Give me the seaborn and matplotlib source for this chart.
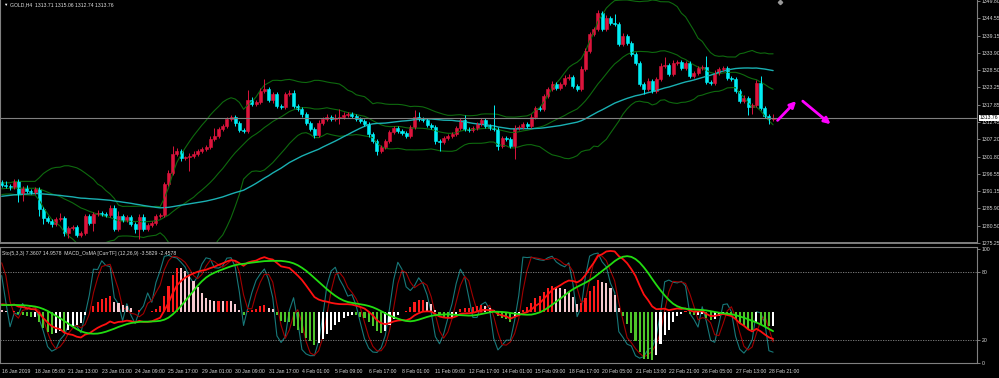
import numpy as np
import pandas as pd
import matplotlib
matplotlib.use("Agg")
import matplotlib.pyplot as plt
import matplotlib.transforms as mtransforms
import seaborn as sns

# ================================
# DATA (GOLD H4, 16 Jan - 28 Feb 2019)
# ================================
closes = [
    1293.1, 1292.8, 1292.5, 1294.3, 1290.3, 1292.2, 1291.3, 1291.0, 1291.9, 1285.7,
    1282.9, 1282.0, 1281.1, 1282.6, 1282.9, 1278.3, 1279.9, 1280.2, 1277.7, 1278.3,
    1283.6, 1281.4, 1284.2, 1284.5, 1284.2, 1284.0, 1286.0, 1279.6, 1283.6, 1282.3,
    1283.3, 1281.1, 1279.6, 1283.3, 1279.6, 1280.8, 1281.4, 1283.6, 1283.9, 1293.4,
    1296.8, 1302.7, 1303.6, 1301.4, 1301.7, 1302.0, 1302.7, 1303.6, 1304.2, 1304.8,
    1307.3, 1308.2, 1310.4, 1311.3, 1313.4, 1314.1, 1312.2, 1310.1, 1309.8, 1319.3,
    1318.1, 1318.7, 1322.1, 1322.7, 1319.3, 1321.1, 1317.5, 1317.1, 1321.1, 1321.5,
    1317.5, 1316.5, 1315.0, 1312.2, 1310.4, 1308.5, 1312.2, 1313.4, 1314.1, 1313.4,
    1313.8, 1314.1, 1314.7, 1315.0, 1314.4, 1313.4, 1312.8, 1311.9, 1308.8, 1306.7,
    1303.6, 1304.8, 1306.7, 1309.4, 1310.7, 1309.8, 1309.1, 1308.2, 1311.0, 1314.1,
    1313.4, 1313.1, 1311.6, 1311.0, 1306.7, 1306.4, 1307.6, 1308.2, 1308.8, 1310.7,
    1313.1, 1310.4, 1310.1, 1310.7, 1311.9, 1313.1, 1311.3, 1310.7, 1310.4, 1305.1,
    1307.6, 1307.3, 1305.1, 1310.7, 1311.0, 1311.9, 1311.3, 1314.1, 1316.8, 1316.5,
    1320.5, 1322.7, 1324.2, 1323.0, 1324.2, 1326.1, 1326.4, 1323.6, 1322.7, 1328.9,
    1334.4, 1339.6, 1341.2, 1346.1, 1341.2, 1344.6, 1343.0, 1342.7, 1336.6, 1339.0,
    1336.9, 1333.5, 1330.7, 1324.2, 1322.7, 1325.2, 1322.1, 1325.8, 1329.8, 1330.1,
    1327.3, 1330.7, 1331.0, 1329.2, 1330.7, 1326.7, 1327.6, 1329.2, 1329.5, 1324.8,
    1324.5, 1327.6, 1328.9, 1329.2, 1326.1, 1325.8, 1322.1, 1319.0, 1319.9, 1317.1,
    1317.8, 1324.5, 1316.8, 1314.4, 1313.3, 1313.76]

wick_up = [
    0.9, 1.2, 0.5, 0.8, 0.6, 0.6, 0.8, 0.5, 0.5, 0.6,
    0.5, 0.6, 0.6, 0.6, 1.5, 0.6, 0.5, 0.6, 0.6, 0.5,
    0.6, 0.6, 0.5, 0.8, 0.7, 0.6, 1.0, 1.0, 1.5, 0.6,
    0.6, 0.6, 0.5, 0.8, 0.8, 0.5, 0.5, 0.6, 0.6, 0.6,
    0.9, 2.5, 0.8, 0.6, 0.5, 1.0, 0.8, 0.6, 0.5, 0.6,
    0.8, 2.4, 0.7, 0.6, 0.8, 0.6, 0.5, 0.6, 0.6, 3.0,
    0.8, 0.6, 1.0, 3.0, 0.7, 0.8, 0.6, 0.5, 0.6, 0.8,
    0.8, 0.6, 0.8, 0.5, 0.6, 0.5, 1.0, 0.8, 0.8, 0.6,
    1.2, 2.4, 0.8, 0.6, 0.6, 0.6, 0.6, 0.5, 0.6, 0.5,
    0.5, 0.6, 0.6, 0.8, 0.6, 0.6, 0.5, 0.5, 0.6, 2.0,
    1.6, 0.6, 0.6, 0.5, 0.6, 0.5, 0.6, 0.5, 0.5, 0.6,
    0.8, 1.5, 0.6, 0.5, 0.6, 0.8, 0.6, 0.6, 7.0, 0.6,
    0.6, 0.6, 0.6, 1.0, 0.6, 0.6, 0.6, 0.8, 0.8, 0.6,
    0.6, 0.6, 1.0, 0.8, 0.6, 0.8, 0.8, 0.6, 0.6, 0.8,
    0.8, 0.8, 0.6, 0.8, 0.6, 0.8, 0.6, 2.8, 0.6, 0.8,
    0.6, 0.6, 0.6, 0.6, 0.6, 0.8, 0.6, 0.6, 0.8, 2.5,
    0.6, 0.8, 0.6, 0.6, 0.6, 0.6, 0.5, 0.6, 0.6, 3.5,
    0.6, 0.8, 0.6, 0.6, 0.6, 0.5, 0.6, 0.6, 0.8, 0.6,
    0.6, 1.0, 2.2, 0.6, 0.6, 1.3]

wick_dn = [
    0.6, 0.6, 0.8, 0.5, 2.4, 2.0, 0.8, 0.6, 0.6, 2.0,
    1.8, 0.6, 1.0, 0.6, 0.6, 1.0, 1.5, 0.6, 0.6, 0.5,
    0.6, 0.6, 2.5, 0.6, 0.6, 0.6, 0.6, 0.8, 0.6, 0.6,
    0.6, 0.6, 1.2, 3.0, 0.6, 0.6, 0.6, 0.5, 0.6, 0.5,
    0.6, 0.6, 0.6, 0.8, 0.6, 4.3, 0.6, 0.6, 0.6, 0.6,
    0.6, 0.6, 0.5, 0.6, 0.6, 0.6, 0.8, 0.8, 0.6, 0.6,
    0.6, 0.6, 0.6, 0.6, 0.6, 0.8, 0.6, 0.5, 0.6, 0.6,
    0.8, 0.6, 0.8, 0.6, 0.6, 1.0, 0.6, 0.5, 0.6, 0.6,
    0.6, 1.8, 0.6, 0.6, 0.6, 0.6, 0.6, 0.6, 0.8, 0.6,
    1.2, 0.6, 0.5, 0.6, 0.6, 0.6, 0.6, 0.6, 0.6, 0.6,
    0.6, 0.6, 0.6, 0.6, 1.0, 2.8, 0.6, 0.6, 0.6, 0.6,
    0.6, 0.6, 0.6, 0.6, 0.5, 0.6, 0.6, 0.6, 0.6, 1.2,
    0.6, 0.6, 0.6, 4.0, 0.6, 0.6, 0.6, 0.6, 0.6, 0.6,
    0.6, 0.6, 0.6, 0.6, 0.6, 0.6, 0.6, 0.6, 0.6, 0.6,
    0.6, 0.6, 0.6, 0.6, 0.6, 0.6, 0.6, 0.6, 0.8, 0.6,
    0.6, 0.6, 0.6, 0.6, 1.5, 0.6, 0.6, 0.6, 0.6, 0.6,
    0.6, 0.6, 0.6, 0.6, 0.6, 0.6, 0.6, 0.6, 0.6, 0.6,
    0.6, 0.6, 0.6, 0.6, 0.6, 0.6, 0.6, 0.6, 0.6, 2.5,
    2.0, 0.6, 0.6, 0.6, 1.5, 0.6]

# closes scrolled off the left edge (needed to warm up the indicators)
earlier_closes = [
    1285.2, 1286.0, 1286.8, 1285.9, 1287.4, 1288.1, 1287.3, 1286.5, 1287.9, 1288.6,
    1287.8, 1286.9, 1287.5, 1288.3, 1287.1, 1286.4, 1287.6, 1288.2, 1287.0, 1286.3,
    1287.2, 1288.0, 1288.8, 1289.5, 1290.1, 1291.0, 1290.4, 1291.6, 1292.3, 1291.5,
    1290.8, 1291.9, 1292.6, 1291.7, 1290.9, 1291.4, 1292.2, 1291.3, 1290.6, 1291.8,
    1292.5, 1291.6, 1290.9, 1291.5, 1292.4, 1291.7, 1292.8, 1293.5, 1293.9]

price_ticks = [1349.80, 1344.55, 1339.15, 1333.90, 1328.50, 1323.25, 1317.85, 1312.45,
               1307.20, 1301.80, 1296.55, 1291.15, 1285.90, 1280.50, 1275.25]
time_labels = ["16 Jan 2019", "18 Jan 05:00", "21 Jan 13:00", "23 Jan 01:00", "24 Jan 09:00",
               "25 Jan 17:00", "29 Jan 01:00", "30 Jan 09:00", "31 Jan 17:00", "4 Feb 01:00",
               "5 Feb 09:00", "6 Feb 17:00", "8 Feb 01:00", "11 Feb 09:00", "12 Feb 17:00",
               "14 Feb 01:00", "15 Feb 09:00", "18 Feb 17:00", "20 Feb 05:00", "21 Feb 13:00",
               "22 Feb 21:00", "26 Feb 05:00", "27 Feb 13:00", "28 Feb 21:00"]
sto_levels = [100, 80, 20, 0]

# ================================
# BARS + INDICATORS
# ================================
n = len(closes)
bars = pd.DataFrame({"close": closes})
bars["open"] = [earlier_closes[-1]] + closes[:-1]
bars["high"] = bars[["open", "close"]].max(axis=1) + np.array(wick_up)
bars["low"] = bars[["open", "close"]].min(axis=1) - np.array(wick_dn)
bars["i"] = np.arange(n)

prev = pd.DataFrame({"close": earlier_closes, "high": earlier_closes, "low": earlier_closes})
full = pd.concat([prev, bars[["close", "high", "low"]]], ignore_index=True)
c = full["close"]
mid = c.rolling(20).mean()
sd = c.rolling(20).std(ddof=0)
full["bb_mid"] = mid
full["bb_up"] = mid + 2 * sd
full["bb_lo"] = mid - 2 * sd
full["ma50"] = c.rolling(50).mean()
full["macd"] = c.ewm(span=12, adjust=False).mean() - c.ewm(span=26, adjust=False).mean()
full["signal"] = full["macd"].rolling(9).mean()
full["osma"] = full["macd"] - full["signal"]
hh = full["high"].rolling(5).max()
ll = full["low"].rolling(5).min()
full["sto_main"] = 100 * (c - ll).rolling(3).sum() / (hh - ll).rolling(3).sum()
full["sto_sig"] = full["sto_main"].rolling(3).mean()
osma_prev = full["osma"].shift(1)
ind = full.iloc[len(earlier_closes):].reset_index(drop=True)
ind["i"] = np.arange(n)
ind["osma_prev"] = osma_prev.iloc[len(earlier_closes):].values

# ================================
# STYLE
# ================================
sns.set_theme(style="dark", rc={
    "figure.facecolor": "black", "axes.facecolor": "black",
    "axes.edgecolor": "#808080", "axes.linewidth": 0.8, "axes.grid": False,
    "xtick.color": "#909090", "ytick.color": "#909090",
    "text.color": "white",
})
plt.rcParams["font.family"] = ["Liberation Sans", "DejaVu Sans"]
FS = 3.7
GRAY = "#808080"

W, H = 999, 378
RIGHT = 977
fig = plt.figure(figsize=(W / 100, H / 100), dpi=100, facecolor="black")
ax = fig.add_axes([0, 1 - 243 / H, RIGHT / W, 243 / H])
ax2 = fig.add_axes([0, 1 - 363 / H, RIGHT / W, (363 - 247) / H])
ax3 = fig.add_axes(ax2.get_position(), sharex=ax2, facecolor="none")

# ================================
# MAIN CHART
# ================================
up = bars["close"] >= bars["open"]
col = np.where(up, "#DC143C", "#00EEF5")
sns.lineplot(data=ind, x="i", y="bb_up", ax=ax, color="#0E6A0E", lw=0.8)
sns.lineplot(data=ind, x="i", y="bb_mid", ax=ax, color="#0E6A0E", lw=0.8)
sns.lineplot(data=ind, x="i", y="bb_lo", ax=ax, color="#0E6A0E", lw=0.8)
sns.lineplot(data=ind, x="i", y="ma50", ax=ax, color="#1AB0B2", lw=1.0)
ax.vlines(bars["i"], bars["low"], bars["high"], colors=col, lw=0.7)
ax.bar(bars["i"], (bars["close"] - bars["open"]).values, bottom=bars["open"].values,
       width=0.72, color=col, edgecolor=col, linewidth=0.4)
ax.axhline(closes[-1], color=GRAY, lw=0.8)

ax.annotate("", xy=(191.0, 1319.6), xytext=(185.6, 1312.4),
            arrowprops=dict(arrowstyle="-|>", color="#FF00FF", lw=2, mutation_scale=9))
ax.annotate("", xy=(199.3, 1311.3), xytext=(191.6, 1319.5),
            arrowprops=dict(arrowstyle="-|>", color="#FF00FF", lw=2, mutation_scale=9))
# small grey object marker near the top edge
ax.plot([186.7], [1349.4], marker="D", ms=2.2, color="#9a9a9a", clip_on=False)

ax.set_xlim(-0.41, 233.9)
ax.set_ylim(1275.25, 1350.11)
ax.yaxis.tick_right()
ax.set_yticks(price_ticks)
ax.set_yticklabels([f"{p:.2f}" for p in price_ticks])
ax.tick_params(axis="y", direction="out", length=2, width=0.6, pad=1.5,
               labelsize=FS, labelcolor="#d8d8d8")
ax.set_xticks([])
ax.set_xlabel("")
ax.set_ylabel("")
ax.spines["top"].set_visible(False)
ax.spines["left"].set_color(GRAY)
ax.spines["right"].set_color(GRAY)
ax.spines["bottom"].set_color(GRAY)
ax.spines["bottom"].set_linewidth(1.4)

trans = mtransforms.blended_transform_factory(ax.transAxes, ax.transData)
ax.text(1.003, closes[-1], f"{closes[-1]:.2f}", transform=trans, fontsize=FS, color="black",
        va="center", ha="left", clip_on=False,
        bbox=dict(facecolor="white", edgecolor="none", pad=0.4))

fig.text(3 / W, 1 - 5 / H, "▼", fontsize=3.2, color="white", va="center")
fig.text(10 / W, 1 - 5 / H, "GOLD,H4  1313.71 1315.06 1312.74 1313.76",
         fontsize=FS, color="#e0e0e0", va="center")

# ================================
# INDICATOR WINDOW
# ================================
sns.lineplot(data=ind, x="i", y="sto_main", ax=ax2, color="#17797A", lw=0.8)
sns.lineplot(data=ind, x="i", y="sto_sig", ax=ax2, color="#A00000", lw=0.8)
for lv in (80, 20):
    ax2.axhline(lv, color="#8a8a8a", lw=0.6, ls=(0, (1.5, 1.5)))
ax2.set_ylim(0, 101.8)
ax2.yaxis.tick_right()
ax2.set_yticks(sto_levels)
ax2.set_yticklabels([str(v) for v in sto_levels])
ax2.tick_params(axis="y", direction="out", length=2, width=0.6, pad=1.5,
                labelsize=FS, labelcolor="#d8d8d8")
ax2.set_xticks(np.arange(0, n, 8)[:len(time_labels)])
ax2.set_xticklabels(time_labels, ha="left")
ax2.tick_params(axis="x", direction="out", length=3, width=0.6, pad=1.5,
                labelsize=FS, labelcolor="#d8d8d8")
ax2.set_xlabel("")
ax2.set_ylabel("")
for s in ax2.spines.values():
    s.set_color(GRAY)

pos = ind["osma"] >= 0
rising = ind["osma"] >= ind["osma_prev"]
hcol = np.where(pos, np.where(rising, "#FF1A1A", "#F6C9CF"),
                np.where(rising, "#FFFFFF", "#4EC52A"))
R = ind["macd"].max() / 0.524
y_lo = -0.442 * R
hist_k = 0.416 * R / abs(ind["osma"].min())
ax3.bar(ind["i"], (ind["osma"] * hist_k).values, width=0.5, color=hcol, linewidth=0)
sns.lineplot(data=ind, x="i", y="macd", ax=ax3, color="#FF1010", lw=1.3)
sns.lineplot(data=ind, x="i", y="signal", ax=ax3, color="#22DD11", lw=1.3)
ax3.set_ylim(y_lo, y_lo + R)
ax3.axis("off")
ax2.set_xlim(-0.41, 233.9)

fig.text(2 / W, 1 - 253 / H,
         "Sto(5,3,3) 7.3607 14.9578  MACD_OsMA [CurrTF] (12,26,9) -3.5829 -2.4578",
         fontsize=FS, color="#d8d8d8", va="center")

fig.savefig("out.png", dpi=100, facecolor="black")
